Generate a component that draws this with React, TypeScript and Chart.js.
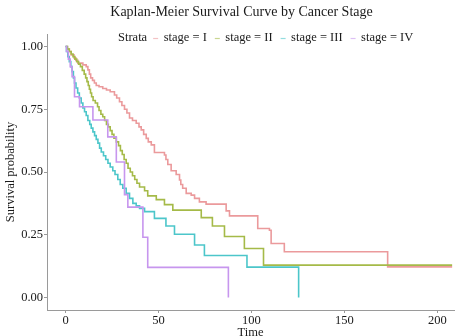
import React, { useEffect, useRef } from "react";
import { Chart, registerables } from "chart.js";

Chart.register(...registerables);

const chartTitle = "Kaplan-Meier Survival Curve by Cancer Stage";
const legendTitle = "Strata";
const strataLabels = ["stage = I", "stage = II", "stage = III", "stage = IV"];
const strataColors = ["#EB9A9C", "#A5BA48", "#4CC6CA", "#C796EE"];

const xTicks = [0, 50, 100, 150, 200];
const yTicks = [0, 0.25, 0.5, 0.75, 1.0];

const stageITime = [0, 1, 2, 3, 4.5, 5.5, 6.6, 9.3, 11.1, 12, 12.8, 13.5, 14.5, 15.5, 16.5, 18, 20, 22, 24, 26.3, 27.5, 29, 30.3, 31.7, 33, 34.4, 36, 38, 39.5, 40.7, 42, 43.4, 44.5, 46.1, 47.8, 53.2, 54, 55, 56.8, 59.5, 61.3, 62, 63, 64.9, 67.6, 69.4, 72, 75.6, 86.4, 88.2, 103.4, 109.7, 110.6, 117.7, 173.3, 208];
const stageISurv = [1, 0.99, 0.98, 0.967, 0.955, 0.945, 0.934, 0.927, 0.92, 0.907, 0.89, 0.875, 0.865, 0.855, 0.845, 0.84, 0.833, 0.827, 0.82, 0.807, 0.795, 0.78, 0.765, 0.75, 0.735, 0.715, 0.705, 0.694, 0.68, 0.668, 0.65, 0.634, 0.62, 0.608, 0.578, 0.568, 0.55, 0.53, 0.505, 0.49, 0.468, 0.45, 0.435, 0.415, 0.408, 0.395, 0.381, 0.372, 0.345, 0.325, 0.275, 0.268, 0.215, 0.182, 0.122, 0.122];

const stageIITime = [0, 1, 2, 3, 4, 5, 6, 7, 8, 9, 10, 10.8, 11.5, 12.2, 12.8, 13.4, 14, 14.8, 16, 17.2, 18, 19, 20, 21, 22, 23, 24, 25, 26, 27.3, 28.5, 29.5, 30.5, 31.5, 32.6, 33.6, 34.8, 36, 37.2, 38.4, 39.8, 42.5, 44.2, 48.8, 53.2, 57.7, 73, 79, 85.5, 96.2, 106.5, 208];
const stageIISurv = [1, 0.99, 0.98, 0.97, 0.96, 0.95, 0.94, 0.93, 0.92, 0.905, 0.89, 0.875, 0.86, 0.845, 0.83, 0.815, 0.8, 0.785, 0.775, 0.76, 0.745, 0.73, 0.72, 0.705, 0.69, 0.68, 0.665, 0.65, 0.635, 0.62, 0.605, 0.585, 0.57, 0.55, 0.535, 0.515, 0.5, 0.485, 0.47, 0.455, 0.44, 0.425, 0.405, 0.39, 0.37, 0.348, 0.318, 0.285, 0.243, 0.195, 0.129, 0.129];

const stageIIITime = [0, 0.5, 1.2, 2, 2.8, 3.5, 4.2, 4.8, 5.6, 6.5, 7.4, 8.4, 9.3, 10.2, 11.1, 12, 13, 13.8, 14.7, 15.6, 16.5, 17.4, 18.3, 19.2, 20.4, 21.6, 22.8, 24, 25.4, 26.6, 28.1, 29.4, 30.8, 32.6, 34.4, 36.2, 38, 39.8, 42.5, 47.8, 54, 58.6, 69.4, 74.7, 97.6, 125.4];
const stageIIISurv = [1, 0.98, 0.96, 0.94, 0.92, 0.9, 0.875, 0.855, 0.835, 0.815, 0.795, 0.775, 0.755, 0.74, 0.725, 0.705, 0.69, 0.675, 0.66, 0.645, 0.63, 0.615, 0.595, 0.58, 0.565, 0.55, 0.535, 0.52, 0.505, 0.49, 0.47, 0.45, 0.435, 0.415, 0.395, 0.375, 0.365, 0.355, 0.342, 0.315, 0.285, 0.252, 0.209, 0.167, 0.121, 0];

const stageIVTime = [0, 0.5, 1.5, 2.5, 3.5, 4.8, 7.5, 14.7, 22.7, 27.3, 31.7, 33.5, 41.6, 44.2, 87.6];
const stageIVSurv = [1, 0.98, 0.95, 0.92, 0.88, 0.8, 0.76, 0.707, 0.64, 0.54, 0.41, 0.36, 0.24, 0.12, 0];

const FONT = "'Liberation Serif', 'Times New Roman', 'DejaVu Serif', serif";

const toPoints = (t: number[], s: number[]) => t.map((x, i) => ({ x, y: s[i] }));

const overlayPlugin = {
  id: "overlayText",
  afterDraw(chart: any) {
    const ctx = chart.ctx as CanvasRenderingContext2D;
    ctx.save();
    ctx.fillStyle = "#1a1a1a";
    ctx.textBaseline = "middle";
    ctx.font = `14px ${FONT}`;
    ctx.textAlign = "center";
    ctx.fillText(chartTitle, 241.5, 12);

    ctx.font = `12.5px ${FONT}`;
    ctx.textAlign = "left";
    const ly = 38;
    let x = 118;
    ctx.fillText(legendTitle, x, ly);
    x += ctx.measureText(legendTitle).width + 6;
    strataLabels.forEach((lab, i) => {
      ctx.strokeStyle = strataColors[i];
      ctx.globalAlpha = 0.6;
      ctx.lineWidth = 1.2;
      ctx.beginPath();
      ctx.moveTo(x, ly + 0.5);
      ctx.lineTo(x + 5, ly + 0.5);
      ctx.stroke();
      ctx.globalAlpha = 1;
      x += 5 + 5.5;
      ctx.fillText(lab, x, ly);
      x += ctx.measureText(lab).width + 8;
    });
    ctx.restore();
  },
};

export default function App() {
  const ref = useRef<HTMLCanvasElement | null>(null);
  useEffect(() => {
    if (!ref.current) return;
    const series = [
      [stageITime, stageISurv],
      [stageIITime, stageIISurv],
      [stageIIITime, stageIIISurv],
      [stageIVTime, stageIVSurv],
    ];
    const chart = new Chart(ref.current, {
      type: "line",
      data: {
        datasets: series.map(([t, s], i) => ({
          label: strataLabels[i],
          data: toPoints(t, s),
          borderColor: strataColors[i],
          backgroundColor: strataColors[i],
          borderWidth: 1.6,
          pointRadius: 0,
          stepped: "before" as const,
          fill: false,
          order: 4 - i,
        })),
      },
      options: {
        responsive: false,
        animation: false,
        layout: { padding: { top: 34, right: 20, left: 0, bottom: 0 } },
        plugins: {
          legend: { display: false },
          title: { display: false },
          tooltip: { enabled: false },
        },
        scales: {
          x: {
            type: "linear",
            min: -10,
            max: 209,
            afterBuildTicks: (scale: any) => {
              scale.ticks = xTicks.map((v) => ({ value: v }));
            },
            afterFit: (scale: any) => {
              scale.height = 26;
            },
            grid: { display: true, drawOnChartArea: false, tickLength: 3, color: "#9a9a9a" },
            border: { display: true, color: "#9a9a9a", width: 1 },
            ticks: {
              padding: 0,
              color: "#1a1a1a",
              font: { family: FONT, size: 12.5 },
              maxRotation: 0,
              callback: (v: any) => String(v),
            },
            title: {
              display: true,
              text: "Time",
              color: "#1a1a1a",
              font: { family: FONT, size: 12.5, lineHeight: 0.6 },
              padding: { top: 0, bottom: 0 },
            },
          },
          y: {
            type: "linear",
            min: -0.05,
            max: 1.05,
            afterBuildTicks: (scale: any) => {
              scale.ticks = yTicks.map((v) => ({ value: v }));
            },
            afterFit: (scale: any) => {
              scale.width = 47;
            },
            grid: { display: true, drawOnChartArea: false, tickLength: 3, color: "#9a9a9a" },
            border: { display: true, color: "#9a9a9a", width: 1 },
            ticks: {
              padding: 1,
              color: "#1a1a1a",
              font: { family: FONT, size: 12.5 },
              callback: (v: any) => Number(v).toFixed(2),
            },
            title: {
              display: true,
              text: "Survival probability",
              color: "#1a1a1a",
              font: { family: FONT, size: 12.5 },
              padding: { top: 3, bottom: 0 },
            },
          },
        },
      },
      plugins: [overlayPlugin],
    });
    return () => chart.destroy();
  }, []);
  return (
    <div style={{ position: "fixed", left: 0, top: 0, width: 474, height: 336, background: "#fff" }}>
      <canvas ref={ref} width={474} height={336} />
    </div>
  );
}
